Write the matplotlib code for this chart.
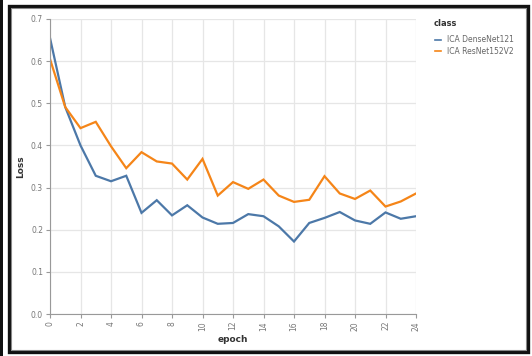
import matplotlib
matplotlib.use("Agg")
import matplotlib.pyplot as plt
from matplotlib.patches import Rectangle
from matplotlib.lines import Line2D

epochs = list(range(25))
densenet_loss = [0.655, 0.491, 0.400, 0.328, 0.315, 0.328, 0.240, 0.270, 0.234, 0.258,
                 0.229, 0.214, 0.216, 0.237, 0.232, 0.208, 0.172, 0.216, 0.228, 0.242,
                 0.222, 0.214, 0.241, 0.226, 0.232]
resnet_loss = [0.605, 0.491, 0.441, 0.456, 0.398, 0.346, 0.384, 0.362, 0.357, 0.319,
               0.368, 0.281, 0.313, 0.297, 0.319, 0.281, 0.266, 0.271, 0.327, 0.286,
               0.273, 0.293, 0.255, 0.267, 0.286]
series_names = ["ICA DenseNet121", "ICA ResNet152V2"]
series_colors = ["#4c78a8", "#f58518"]
x_ticks = list(range(0, 25, 2))
y_ticks = [0.0, 0.1, 0.2, 0.3, 0.4, 0.5, 0.6, 0.7]

W, H = 532, 356
fig = plt.figure(figsize=(W / 100, H / 100), dpi=100)
fig.patch.set_facecolor("white")

def px_axes(x0, y0, x1, y1):
    return [x0 / W, 1 - y1 / H, (x1 - x0) / W, (y1 - y0) / H]

ax = fig.add_axes(px_axes(50, 19, 416, 314))
for name, vals, col in zip(series_names, [densenet_loss, resnet_loss], series_colors):
    ax.plot(epochs, vals, color=col, lw=1.6, label=name, solid_joinstyle="miter")

ax.set_xlim(0, 24)
ax.set_ylim(0, 0.7)
ax.set_xticks(x_ticks)
ax.set_yticks(y_ticks)
ax.set_yticklabels([f"{v:.1f}" for v in y_ticks])
ax.grid(True, color="#e6e6e6", lw=0.9)
ax.set_axisbelow(True)
for s in ["top", "right"]:
    ax.spines[s].set_visible(False)
for s in ["left", "bottom"]:
    ax.spines[s].set_color("#999999")
    ax.spines[s].set_linewidth(0.8)
ax.tick_params(axis="both", colors="#999999", labelcolor="#777777", labelsize=5.5,
               length=3, width=0.8, pad=2)
ax.tick_params(axis="x", labelrotation=90)
ax.set_xlabel("epoch", fontsize=6.5, fontweight="bold", color="#333333", labelpad=3)
ax.set_ylabel("Loss", fontsize=6.5, fontweight="bold", color="#333333", labelpad=4)

# legend
fig.text(434 / W, 1 - 23 / H, "class", fontsize=6, fontweight="bold", color="#333333",
         va="center", ha="left")
for i, (name, col) in enumerate(zip(series_names, series_colors)):
    yy = 1 - (40 + 11 * i) / H
    fig.add_artist(Line2D([435 / W, 441 / W], [yy, yy], color=col, lw=1.2))
    fig.text(447 / W, yy, name, fontsize=5.5, color="#666666", va="center", ha="left")

# outer frame
fig.add_artist(Rectangle((0, 0), 3 / W, 1, transform=fig.transFigure,
                         facecolor="#111111", edgecolor="none"))
fig.add_artist(Rectangle((8.5 / W, 1 - 352 / H), (528 - 8.5) / W, (352 - 5.5) / H,
                         transform=fig.transFigure, fill=False, edgecolor="#111111", lw=2.4))
fig.add_artist(Rectangle((11 / W, 1 - 349.5 / H), (525.5 - 11) / W, (349.5 - 8) / H,
                         transform=fig.transFigure, fill=False, edgecolor="#888888", lw=0.8))

fig.savefig("out.png", dpi=100, facecolor="white")
